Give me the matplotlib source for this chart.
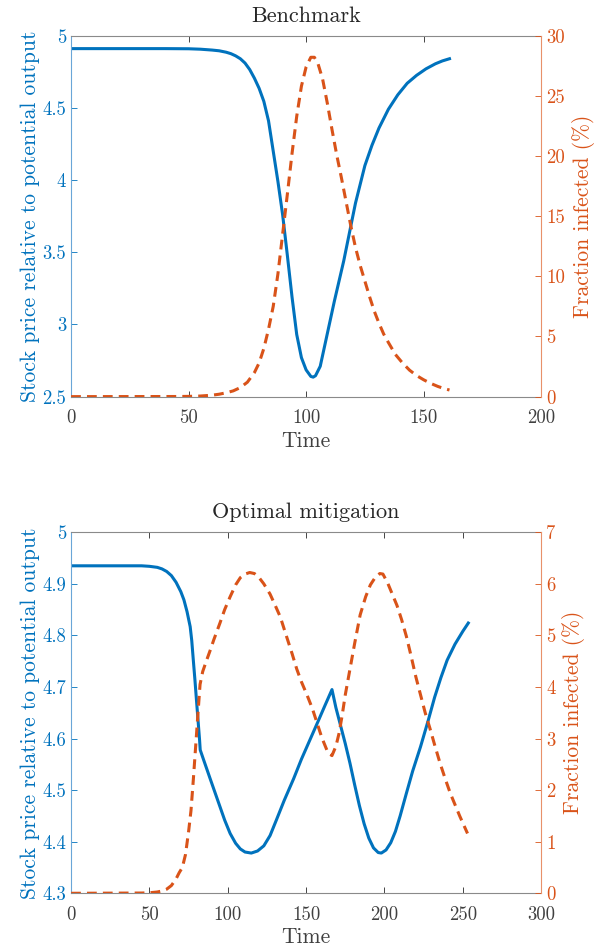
import matplotlib
matplotlib.use("Agg")
import matplotlib.pyplot as plt
from matplotlib import ticker

plt.rcParams["font.family"] = ["cmr10", "DejaVu Sans"]
plt.rcParams["mathtext.fontset"] = "cm"
plt.rcParams["axes.formatter.use_mathtext"] = True

# Benchmark panel
t_price_bench = [0, 40, 50, 55, 60, 63, 66, 68, 70, 72, 74, 76, 78, 80, 82, 84, 86, 88,
                 90, 92, 94, 96, 98, 100, 102, 103, 104, 106, 108, 110, 112, 114, 116,
                 118, 121, 125, 128, 131, 135, 139, 143, 147, 151, 155, 158, 161]
price_bench = [4.91, 4.91, 4.909, 4.906, 4.9, 4.895, 4.885, 4.875, 4.86, 4.84, 4.81,
               4.765, 4.705, 4.635, 4.545, 4.41, 4.2, 3.99, 3.76, 3.48, 3.19, 2.93, 2.77,
               2.685, 2.64, 2.635, 2.645, 2.71, 2.86, 3.01, 3.16, 3.3, 3.44, 3.6, 3.84,
               4.1, 4.24, 4.36, 4.49, 4.59, 4.67, 4.725, 4.77, 4.805, 4.825, 4.84]

t_inf_bench = [0, 45, 50, 55, 60, 63, 66, 69, 72, 75, 78, 80, 82, 84, 86, 88, 90, 92, 94,
               96, 98, 100, 102, 103.5, 105, 107, 109, 111, 113, 115, 117, 119, 121, 123,
               125, 127, 129, 131, 133, 135, 138, 141, 144, 147, 150, 153, 156, 159, 161]
inf_bench = [0, 0.01, 0.02, 0.05, 0.12, 0.2, 0.32, 0.48, 0.75, 1.2, 2.0, 2.8, 4.0, 5.6,
             7.5, 10.2, 13.5, 16.8, 20.2, 23.3, 25.8, 27.4, 28.2, 28.2, 27.7, 26.4, 24.4,
             22.2, 20.1, 18.2, 16.2, 14.2, 12.4, 10.9, 9.6, 8.3, 7.1, 6.1, 5.2, 4.5, 3.5,
             2.8, 2.2, 1.75, 1.4, 1.1, 0.85, 0.65, 0.55]

# Optimal mitigation panel
t_price_opt = [0, 45, 50, 55, 58, 61, 64, 67, 70, 72, 74, 76, 77, 78, 79, 80, 81, 82,
               82.4, 85, 89, 95, 98, 101.5, 105, 108, 111, 115, 119, 123, 127, 131, 136,
               142, 147, 152.5, 158, 162, 166.5, 169, 172, 175, 178, 181, 184, 187, 190,
               193, 196, 198, 201, 204, 207, 210, 214, 218, 223, 228, 232, 236, 240, 245,
               250, 253.5]
price_opt = [4.935, 4.935, 4.934, 4.932, 4.929, 4.924, 4.916, 4.903, 4.885, 4.869, 4.846,
             4.817, 4.79, 4.752, 4.715, 4.675, 4.636, 4.597, 4.578, 4.555, 4.52, 4.468,
             4.442, 4.416, 4.397, 4.386, 4.38, 4.378, 4.382, 4.392, 4.412, 4.442, 4.48,
             4.522, 4.56, 4.598, 4.636, 4.664, 4.695, 4.66, 4.625, 4.59, 4.552, 4.51, 4.47,
             4.435, 4.407, 4.388, 4.379, 4.378, 4.384, 4.398, 4.42, 4.45, 4.494, 4.537,
             4.584, 4.636, 4.68, 4.718, 4.752, 4.783, 4.808, 4.824]

t_inf_opt = [0, 45, 50, 55, 58, 61, 64, 67, 69, 71, 73, 75, 76.5, 78, 79.5, 81, 82.3, 84,
             86.5, 89, 91, 95, 98, 101.5, 105, 108, 111, 114, 117, 120, 123, 127, 130,
             133.5, 137.5, 141, 144, 147, 150.5, 154, 157, 160, 164, 166.5, 169, 171, 173,
             175, 178, 181, 184.5, 188, 191, 194, 197, 199, 202, 205, 208, 211, 214, 217,
             220, 223, 226, 229, 232, 235.5, 239, 242, 245, 248, 253]
inf_opt = [0, 0.005, 0.01, 0.025, 0.045, 0.08, 0.15, 0.28, 0.4, 0.5, 0.75, 1.2, 1.6, 2.2,
           2.85, 3.5, 4.05, 4.3, 4.52, 4.73, 4.91, 5.24, 5.5, 5.75, 5.98, 6.12, 6.19, 6.22,
           6.2, 6.12, 6.0, 5.8, 5.6, 5.36, 4.98, 4.65, 4.35, 4.1, 3.85, 3.58, 3.3, 3.02,
           2.72, 2.67, 2.85, 3.1, 3.45, 3.85, 4.35, 4.85, 5.4, 5.75, 5.98, 6.12, 6.2, 6.19,
           6.02, 5.8, 5.58, 5.3, 4.98, 4.6, 4.2, 3.85, 3.5, 3.2, 2.88, 2.52, 2.2, 1.94,
           1.72, 1.5, 1.16]

BLUE = "#0072BD"
ORANGE = "#D95319"
GRAY = "#262626"

fig = plt.figure(figsize=(5.95, 9.5), dpi=100)


def panel(rect, title, t1, y1, t2, y2, xlim, xticks, ylim, yticks, rlim, rticks):
    ax = fig.add_axes(rect)
    ax2 = ax.twinx()
    ax.plot(t1, y1, color=BLUE, lw=2.2, solid_joinstyle="round")
    ax2.plot(t2, y2, color=ORANGE, lw=2.2, dashes=(3.2, 2.0))

    ax.set_xlim(*xlim)
    ax.set_xticks(xticks)
    ax.set_ylim(*ylim)
    ax.set_yticks(yticks)
    ax2.set_ylim(*rlim)
    ax2.set_yticks(rticks)
    fmt = ticker.FuncFormatter(lambda v, p: "%g" % round(v, 3))
    ax.yaxis.set_major_formatter(fmt)
    ax2.yaxis.set_major_formatter(fmt)
    ax.xaxis.set_major_formatter(fmt)

    ax.tick_params(axis="x", direction="in", length=4.5, width=0.6, color=GRAY,
                   labelcolor="#404040", labelsize=13.5, top=True, pad=9)
    ax.tick_params(axis="y", direction="in", length=4.5, width=0.6, color=BLUE,
                   labelcolor=BLUE, labelsize=13.5, right=False)
    ax2.tick_params(axis="y", direction="in", length=4.5, width=0.6, color=ORANGE,
                    labelcolor=ORANGE, labelsize=13.5)

    for s in ("top", "bottom"):
        ax.spines[s].set_color("#8a8a8a")
        ax.spines[s].set_linewidth(0.8)
        ax2.spines[s].set_visible(False)
    ax.spines["left"].set_color("#6aa6d8")
    ax.spines["left"].set_linewidth(0.8)
    ax.spines["right"].set_visible(False)
    ax2.spines["left"].set_visible(False)
    ax2.spines["right"].set_color("#e8916a")
    ax2.spines["right"].set_linewidth(0.8)

    ax.set_xlabel("Time", fontsize=15.5, color="#404040", labelpad=3)
    ax.set_ylabel("Stock price relative to potential output", fontsize=15.5,
                  color=BLUE, labelpad=2)
    ax2.set_ylabel("Fraction infected (%)", fontsize=15.5, color=ORANGE, labelpad=5)
    ax.set_title(title, fontsize=16, color=GRAY, pad=10)
    return ax, ax2


panel([0.1195, 0.5825, 0.79, 0.38], "Benchmark",
      t_price_bench, price_bench, t_inf_bench, inf_bench,
      (0, 200), [0, 50, 100, 150, 200],
      (2.5, 5), [2.5, 3, 3.5, 4, 4.5, 5],
      (0, 30), [0, 5, 10, 15, 20, 25, 30])

panel([0.1195, 0.0597, 0.79, 0.38], "Optimal mitigation",
      t_price_opt, price_opt, t_inf_opt, inf_opt,
      (0, 300), [0, 50, 100, 150, 200, 250, 300],
      (4.3, 5), [4.3, 4.4, 4.5, 4.6, 4.7, 4.8, 4.9, 5],
      (0, 7), [0, 1, 2, 3, 4, 5, 6, 7])

fig.savefig("out.png", dpi=100)
